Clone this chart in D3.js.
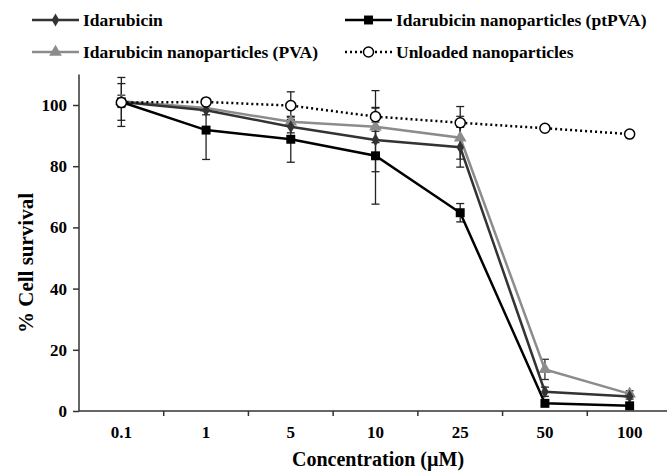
<!DOCTYPE html>
<html>
<head>
<meta charset="utf-8">
<script src="https://cdn.jsdelivr.net/npm/d3@7"></script>
<style>
  body { margin: 0; background: #fff; }
  svg text { font-family: "Liberation Serif", "Times New Roman", serif; font-weight: bold; fill: #000; }
</style>
</head>
<body>
<svg id="chart" width="667" height="471"></svg>
<script>
// concentrations (categories)
const concentrations = ['0.1', '1', '5', '10', '25', '50', '100']
const yTicks = [0, 20, 40, 60, 80, 100]

// % cell survival and error, per series
const idaMean = [101, 98.3, 92.9, 88.6, 86.2, 6.3, 4.7]
const idaErr = [6, 1.5, 2, 10.4, 6.5, 1.5, 0.8]
const ptpvaMean = [101, 91.8, 88.8, 83.4, 64.8, 2.5, 1.7]
const ptpvaErr = [8, 9.6, 7.5, 15.8, 3, 0.8, 0.6]
const pvaMean = [101.2, 99, 94.5, 92.9, 89.3, 13.6, 5.6]
const pvaErr = [2, 1, 1.5, 1.5, 7, 3.3, 1]
const unloadedMean = [100.8, 101, 99.8, 96.2, 94.2, 92.4, 90.5]
const unloadedErr = [1, 0.5, 4.5, 8.5, 5.3, 0, 0]

const series = [
    {name: 'Idarubicin nanoparticles (PVA)', mean: pvaMean, err: pvaErr, color: '#8c8c8c', marker: d3.symbolTriangle, size: 70, fill: '#8c8c8c', dash: null},
    {name: 'Idarubicin', mean: idaMean, err: idaErr, color: '#333', marker: d3.symbolDiamond, size: 50, fill: '#333', dash: null},
    {name: 'Idarubicin nanoparticles (ptPVA)', mean: ptpvaMean, err: ptpvaErr, color: '#000', marker: d3.symbolSquare, size: 80, fill: '#000', dash: null},
    {name: 'Unloaded nanoparticles', mean: unloadedMean, err: unloadedErr, color: '#000', marker: d3.symbolCircle, size: 80, fill: '#fff', dash: '2,3'}
]

const svg = d3.select('#chart')

const x = d3.scaleBand().domain(concentrations).range([79, 672])
const y = d3.scaleLinear().domain([0, 100]).range([411, 105])

// y axis
const yAxis = svg.append('g')
    .attr('transform', 'translate(79,0)')
    .call(d3.axisLeft(y).tickValues(yTicks).tickSize(6).tickPadding(6))
yAxis.select('.domain').attr('d', `M0,${y(110)}V${y(0)}`).attr('stroke', '#333').attr('stroke-width', 1.5)
yAxis.selectAll('.tick line').attr('stroke', '#333').attr('stroke-width', 1.5)
yAxis.selectAll('.tick text').style('font-size', '17px')

// x axis: ticks between categories
const xg = svg.append('g').attr('transform', `translate(0,${y(0)})`)
xg.append('line').attr('x1', 79).attr('x2', 672).attr('stroke', '#333').attr('stroke-width', 1.5)
xg.selectAll('line.tk')
    .data(concentrations.slice(1))
    .join('line')
    .attr('class', 'tk')
    .attr('x1', d => x(d)).attr('x2', d => x(d))
    .attr('y1', 0).attr('y2', 5)
    .attr('stroke', '#333').attr('stroke-width', 1.5)
xg.selectAll('text')
    .data(concentrations)
    .join('text')
    .attr('x', d => x(d) + x.bandwidth() / 2)
    .attr('y', 27)
    .attr('text-anchor', 'middle')
    .style('font-size', '17px')
    .text(d => d)

// axis titles
svg.append('text')
    .attr('x', 292).attr('y', 466)
    .style('font-size', '20px')
    .text('Concentration (µM)')

svg.append('text')
    .attr('transform', 'translate(33,263) rotate(-90)')
    .attr('text-anchor', 'middle')
    .style('font-size', '21px')
    .text('% Cell survival')

const cx = (d, i) => x(concentrations[i]) + x.bandwidth() / 2

const line = d3.line()
    .x((d, i) => cx(d, i))
    .y(d => y(d))

// error bars
series.forEach(s => {
    const g = svg.append('g')
    s.mean.forEach((m, i) => {
        if (!s.err[i]) return
        const px = cx(m, i)
        const ec = s.color === '#8c8c8c' ? '#333' : '#222'
        g.append('line').attr('x1', px).attr('x2', px)
            .attr('y1', y(m - s.err[i])).attr('y2', y(m + s.err[i]))
            .attr('stroke', ec).attr('stroke-width', 1.3)
        ;[m - s.err[i], m + s.err[i]].forEach(v => {
            g.append('line').attr('x1', px - 4).attr('x2', px + 4)
                .attr('y1', y(v)).attr('y2', y(v))
                .attr('stroke', ec).attr('stroke-width', 1.3)
        })
    })
})

// lines and markers
series.forEach(s => {
    svg.append('path')
        .datum(s.mean)
        .attr('d', line)
        .attr('fill', 'none')
        .attr('stroke', s.color)
        .attr('stroke-width', 2.5)
        .attr('stroke-dasharray', s.dash)

    svg.selectAll(null)
        .data(s.mean)
        .join('path')
        .attr('transform', (d, i) => `translate(${cx(d, i)},${y(d)})`)
        .attr('d', d3.symbol().type(s.marker).size(s.size))
        .attr('fill', s.fill)
        .attr('stroke', s.dash ? '#000' : 'none')
        .attr('stroke-width', 1.5)
})

// legend
const legendItems = [
    {s: series[1], x: 32, y: 20},
    {s: series[2], x: 345, y: 20},
    {s: series[0], x: 32, y: 52},
    {s: series[3], x: 345, y: 52}
]
legendItems.forEach(d => {
    const g = svg.append('g').attr('transform', `translate(${d.x},${d.y})`)
    const w = 47
    g.append('line').attr('x1', 0).attr('x2', w)
        .attr('stroke', d.s.color).attr('stroke-width', 2.5)
        .attr('stroke-dasharray', d.s.dash)
    g.append('path')
        .attr('transform', `translate(${w / 2},0)`)
        .attr('d', d3.symbol().type(d.s.marker).size(d.s.size))
        .attr('fill', d.s.fill)
        .attr('stroke', d.s.dash ? '#000' : 'none')
        .attr('stroke-width', 1.5)
    g.append('text')
        .attr('x', w + 4).attr('y', 6)
        .style('font-size', '17.5px')
        .text(d.s.name)
})
</script>
</body>
</html>
